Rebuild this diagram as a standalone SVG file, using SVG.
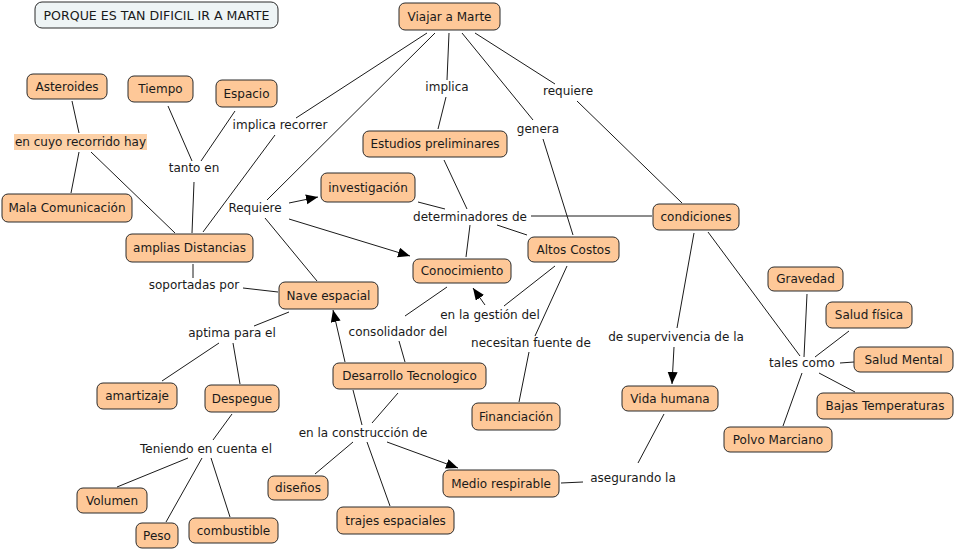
<svg xmlns="http://www.w3.org/2000/svg" width="956" height="550" viewBox="0 0 956 550">
<style>
.n rect{fill:#fec898;stroke:#2a2a2a;stroke-width:1}
.t rect{fill:#eef4f5;stroke:#2a2a2a;stroke-width:1}
text{font-family:"DejaVu Sans",Verdana,sans-serif;font-size:12px;fill:#1a1a1a;text-anchor:middle}
.t text{font-size:12.6px}
.c line{stroke:#1a1a1a;stroke-width:1}
.a{marker-end:url(#ah)}
</style>
<defs>
<marker id="ah" markerUnits="userSpaceOnUse" markerWidth="13" markerHeight="11" refX="12" refY="5" orient="auto">
<path d="M0,0 L12,5 L0,10 z" fill="#000"/>
</marker>
</defs>
<rect width="956" height="550" fill="#fff"/>
<g id="connectors" class="c">
<line x1="427" y1="33" x2="296" y2="118"/>
<line x1="275" y1="135" x2="203" y2="232"/>
<line x1="435" y1="33" x2="267" y2="200"/>
<line x1="449" y1="33" x2="447" y2="80"/>
<line x1="446" y1="97" x2="438" y2="129"/>
<line x1="462" y1="33" x2="533" y2="120"/>
<line x1="543" y1="139" x2="573" y2="235"/>
<line x1="475" y1="33" x2="555" y2="84"/>
<line x1="577" y1="101" x2="682" y2="203"/>
<line x1="444" y1="160" x2="467" y2="209"/>
<line x1="470" y1="225" x2="466" y2="257"/>
<line x1="497" y1="225" x2="527" y2="235"/>
<line x1="418" y1="202" x2="445" y2="209"/>
<line x1="531" y1="216" x2="652" y2="216"/>
<line class="a" x1="289" y1="203" x2="318" y2="197"/>
<line class="a" x1="289" y1="219" x2="410" y2="256"/>
<line x1="265" y1="218" x2="317" y2="281"/>
<line x1="168" y1="106" x2="192" y2="161"/>
<line x1="235" y1="111" x2="201" y2="161"/>
<line x1="194" y1="182" x2="192" y2="233"/>
<line x1="72" y1="101" x2="79" y2="133"/>
<line x1="79" y1="152" x2="71" y2="193"/>
<line x1="91" y1="152" x2="175" y2="233"/>
<line x1="193" y1="264" x2="193" y2="278"/>
<line x1="243" y1="288" x2="278" y2="292"/>
<line x1="289" y1="312" x2="254" y2="326"/>
<line x1="219" y1="343" x2="162" y2="381"/>
<line x1="233" y1="343" x2="240" y2="384"/>
<line x1="232" y1="414" x2="213" y2="440"/>
<line x1="188" y1="458" x2="117" y2="487"/>
<line x1="202" y1="458" x2="166" y2="522"/>
<line x1="211" y1="458" x2="230" y2="517"/>
<line class="a" x1="345" y1="362" x2="333" y2="310"/>
<line x1="447" y1="287" x2="405" y2="316"/>
<line x1="399" y1="341" x2="405" y2="362"/>
<line x1="555" y1="266" x2="504" y2="306"/>
<line class="a" x1="485" y1="305" x2="473" y2="288"/>
<line x1="567" y1="266" x2="535" y2="336"/>
<line x1="529" y1="352" x2="519" y2="402"/>
<line x1="398" y1="393" x2="372" y2="423"/>
<line x1="353" y1="390" x2="362" y2="425"/>
<line x1="353" y1="442" x2="315" y2="474"/>
<line x1="367" y1="442" x2="390" y2="506"/>
<line class="a" x1="387" y1="442" x2="458" y2="468"/>
<line x1="561" y1="483" x2="583" y2="482"/>
<line x1="638" y1="463" x2="664" y2="414"/>
<line x1="694" y1="233" x2="677" y2="328"/>
<line class="a" x1="674" y1="347" x2="672" y2="384"/>
<line x1="708" y1="232" x2="800" y2="356"/>
<line x1="804" y1="357" x2="807" y2="294"/>
<line x1="815" y1="357" x2="849" y2="331"/>
<line x1="840" y1="363" x2="854" y2="362"/>
<line x1="819" y1="373" x2="855" y2="392"/>
<line x1="802" y1="373" x2="783" y2="426"/>
</g>
<g id="title" class="t"><rect x="35" y="2" width="243" height="26" rx="7"/><text x="156.5" y="19.5">PORQUE ES TAN DIFICIL IR A MARTE</text></g>
<g id="viajar" class="n"><rect x="399" y="3" width="101" height="27" rx="6"/><text x="449.5" y="20.5">Viajar a Marte</text></g>
<g id="asteroides" class="n"><rect x="27" y="74" width="80" height="25" rx="6"/><text x="67" y="90.5">Asteroides</text></g>
<g id="tiempo" class="n"><rect x="128" y="76" width="65" height="26" rx="6"/><text x="160.5" y="93">Tiempo</text></g>
<g id="espacio" class="n"><rect x="216" y="80" width="61" height="27" rx="6"/><text x="246.5" y="97.5">Espacio</text></g>
<g id="estudios" class="n"><rect x="363" y="131" width="144" height="26" rx="6"/><text x="435" y="148">Estudios preliminares</text></g>
<g id="mala" class="n"><rect x="2" y="194" width="130" height="28" rx="6"/><text x="67" y="212">Mala Comunicación</text></g>
<g id="amplias" class="n"><rect x="126" y="234" width="127" height="28" rx="6"/><text x="189.5" y="252">amplias Distancias</text></g>
<g id="investigacion" class="n"><rect x="321" y="173" width="94" height="29" rx="6"/><text x="368" y="191.5">investigación</text></g>
<g id="nave" class="n"><rect x="279" y="282" width="99" height="27" rx="6"/><text x="328.5" y="299.5">Nave espacial</text></g>
<g id="altos" class="n"><rect x="528" y="237" width="91" height="25" rx="6"/><text x="573.5" y="253.5">Altos Costos</text></g>
<g id="conocimiento" class="n"><rect x="413" y="259" width="98" height="24" rx="6"/><text x="462" y="275">Conocimiento</text></g>
<g id="condiciones" class="n"><rect x="653" y="204" width="86" height="26" rx="6"/><text x="696" y="221">condiciones</text></g>
<g id="gravedad" class="n"><rect x="768" y="267" width="75" height="24" rx="6"/><text x="805.5" y="283">Gravedad</text></g>
<g id="saludfisica" class="n"><rect x="826" y="302" width="86" height="26" rx="6"/><text x="869" y="319">Salud física</text></g>
<g id="saludmental" class="n"><rect x="854" y="347" width="99" height="25" rx="6"/><text x="903.5" y="363.5">Salud Mental</text></g>
<g id="amartizaje" class="n"><rect x="97" y="383" width="80" height="26" rx="6"/><text x="137" y="400">amartizaje</text></g>
<g id="despegue" class="n"><rect x="205" y="385" width="74" height="27" rx="6"/><text x="242" y="402.5">Despegue</text></g>
<g id="volumen" class="n"><rect x="77" y="488" width="70" height="25" rx="6"/><text x="112" y="504.5">Volumen</text></g>
<g id="peso" class="n"><rect x="136" y="523" width="42" height="25" rx="6"/><text x="157" y="539.5">Peso</text></g>
<g id="combustible" class="n"><rect x="189" y="518" width="89" height="25" rx="6"/><text x="233.5" y="534.5">combustible</text></g>
<g id="desarrollo" class="n"><rect x="333" y="363" width="153" height="26" rx="6"/><text x="409.5" y="380">Desarrollo Tecnologico</text></g>
<g id="financiacion" class="n"><rect x="472" y="403" width="88" height="27" rx="6"/><text x="516" y="420.5">Financiación</text></g>
<g id="disenos" class="n"><rect x="268" y="476" width="60" height="24" rx="6"/><text x="298" y="492">diseños</text></g>
<g id="medio" class="n"><rect x="443" y="470" width="116" height="27" rx="6"/><text x="501" y="487.5">Medio respirable</text></g>
<g id="trajes" class="n"><rect x="337" y="507" width="117" height="27" rx="6"/><text x="395.5" y="524.5">trajes espaciales</text></g>
<g id="vida" class="n"><rect x="622" y="386" width="96" height="25" rx="6"/><text x="670" y="402.5">Vida humana</text></g>
<g id="bajas" class="n"><rect x="817" y="393" width="136" height="26" rx="6"/><text x="885" y="410">Bajas Temperaturas</text></g>
<g id="polvo" class="n"><rect x="724" y="427" width="108" height="25" rx="6"/><text x="778" y="443.5">Polvo Marciano</text></g>
<g id="labels">
<rect x="14" y="134" width="133" height="16" fill="#fcd0a6"/>
<text x="80.5" y="146">en cuyo recorrido hay</text>
<text x="194" y="172">tanto en</text>
<text x="280" y="129">implica recorrer</text>
<text x="447" y="91">implica</text>
<text x="538" y="133">genera</text>
<text x="568" y="95">requiere</text>
<text x="255" y="212">Requiere</text>
<text x="470" y="221">determinadores de</text>
<text x="194" y="289">soportadas por</text>
<text x="232" y="337">aptima para el</text>
<text x="490" y="319">en la gestión del</text>
<text x="398" y="336">consolidador del</text>
<text x="531" y="347">necesitan fuente de</text>
<text x="676" y="341">de supervivencia de la</text>
<text x="802" y="367">tales como</text>
<text x="206" y="453">Teniendo en cuenta el</text>
<text x="363" y="437">en la construcción de</text>
<text x="633" y="482">asegurando la</text>
</g>
</svg>
